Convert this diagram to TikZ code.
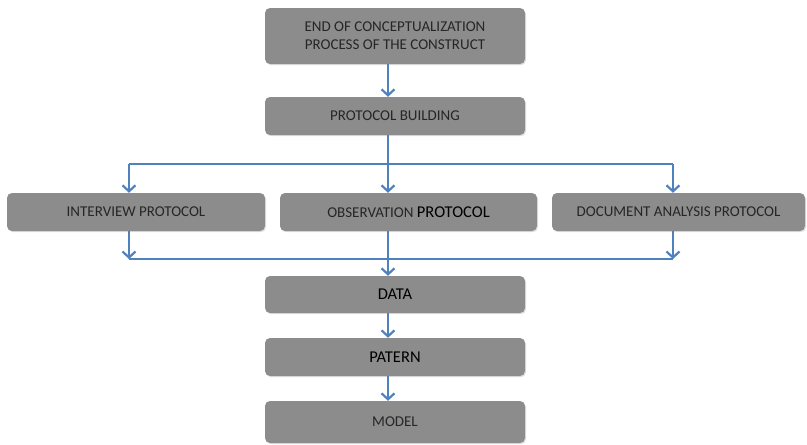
\documentclass[tikz,border=0pt]{standalone}
\usepackage{fontspec}
\setmainfont{Carlito}
\usetikzlibrary{arrows.meta,shadows}
\definecolor{boxgray}{HTML}{8C8C8C}
\definecolor{arrowblue}{HTML}{4F81BD}
\definecolor{textdark}{HTML}{262626}
\tikzset{
  procbox/.style={draw=none, fill=boxgray, rounded corners=5pt, inner sep=0pt,
    font=\fontsize{15}{18}\selectfont, text=textdark, align=center,
    drop shadow={opacity=0.25, shadow xshift=1pt, shadow yshift=-1.2pt}},
  bigtext/.style={font=\fontsize{16.5}{19}\selectfont, text=black},
  flow/.style={draw=arrowblue, line width=2.2pt},
  flowarrow/.style={flow, -{Straight Barb[length=6pt, width=13pt, line width=2.2pt]}}
}
\begin{document}
\begin{tikzpicture}[x=1pt, y=-1pt]
\useasboundingbox (0,0) rectangle (807,445);
% boxes
\node[procbox, minimum width=260pt, minimum height=56pt] (top) at (395,36) {END OF CONCEPTUALIZATION\\PROCESS OF THE CONSTRUCT};
\node[procbox, minimum width=260pt, minimum height=38pt] (build) at (395,116) {PROTOCOL BUILDING};
\node[procbox, minimum width=258pt, minimum height=38pt] (inter) at (136,212) {INTERVIEW PROTOCOL};
\node[procbox, minimum width=257pt, minimum height=38pt] (obs) at (408.5,212) {OBSERVATION {\fontsize{16.5}{19}\selectfont\color{black}PROTOCOL}};
\node[procbox, minimum width=253pt, minimum height=38pt] (doc) at (678.5,212) {DOCUMENT ANALYSIS PROTOCOL};
\node[procbox, bigtext, minimum width=260pt, minimum height=37pt] (data) at (395,294.5) {DATA};
\node[procbox, bigtext, minimum width=260pt, minimum height=38pt] (patern) at (395,357) {PATERN};
\node[procbox, minimum width=260pt, minimum height=42pt] (model) at (395,422) {MODEL};
% junction coordinates
\coordinate (sx) at (388,0);
\coordinate (jtop) at (388,164);
\coordinate (ltop) at (129,164);
\coordinate (rtop) at (673,164);
\coordinate (jbot) at (388,259);
\coordinate (lbot) at (129,259);
\coordinate (rbot) at (673,259);
% connectors
\draw[flowarrow] (top.south -| sx) -- (build.north -| sx);
\draw[flow] (build.south -| sx) -- (jtop);
\draw[flow] (ltop) -- (rtop);
\draw[flowarrow] (ltop) -- (inter.north -| ltop);
\draw[flowarrow] (jtop) -- (obs.north -| jtop);
\draw[flowarrow] (rtop) -- (doc.north -| rtop);
\draw[flowarrow] (inter.south -| lbot) -- (lbot);
\draw[flowarrow] (doc.south -| rbot) -- (rbot);
\draw[flow] (lbot) -- (rbot);
\draw[flowarrow] (obs.south -| jbot) -- (data.north -| jbot);
\draw[flowarrow] (data.south -| sx) -- (patern.north -| sx);
\draw[flowarrow] (patern.south -| sx) -- (model.north -| sx);
\end{tikzpicture}
\end{document}
